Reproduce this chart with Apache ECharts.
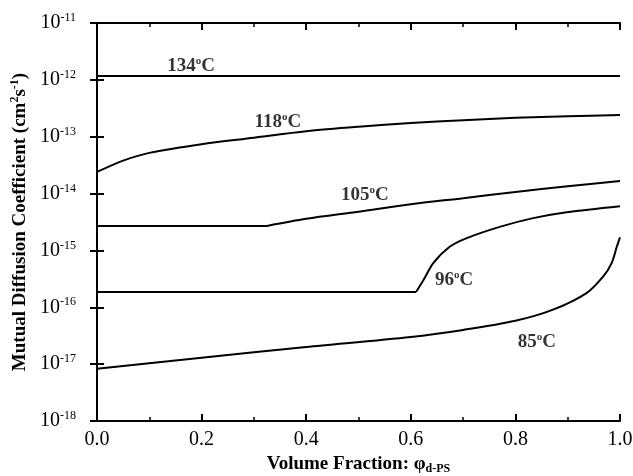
<!DOCTYPE html>
<html>
<head>
<meta charset="utf-8">
<script src="https://cdn.jsdelivr.net/npm/echarts@6/dist/echarts.min.js"></script>
<style>
  html, body { margin: 0; padding: 0; background: #fff; }
  #chart { width: 633px; height: 476px; }
</style>
</head>
<body>
<div id="chart"></div>
<script>
// volume fraction / mutual diffusion coefficient
var phi134 = [0, 1.0]
var d134 = [1.17e-12, 1.17e-12]

var phi118 = [0, 0.05, 0.1, 0.2, 0.3, 0.4, 0.5, 0.6, 0.7, 0.8, 0.9, 1.0]
var d118 = [2.4e-14, 3.8e-14, 5.2e-14, 7.4e-14, 9.6e-14, 1.25e-13, 1.5e-13, 1.74e-13, 1.95e-13, 2.15e-13, 2.3e-13, 2.4e-13]

// 105 C: flat part, then rising part
var phi105a = [0, 0.325]
var d105a = [2.7e-15, 2.7e-15]
var phi105b = [0.325, 0.4, 0.5, 0.6, 0.7, 0.8, 0.9, 1.0]
var d105b = [2.7e-15, 3.6e-15, 4.8e-15, 6.5e-15, 8.3e-15, 1.07e-14, 1.35e-14, 1.66e-14]

// 96 C: flat part, then rising part
var phi96a = [0, 0.61]
var d96a = [1.86e-16, 1.86e-16]
var phi96b = [0.61, 0.624, 0.643, 0.675, 0.707, 0.77, 0.834, 0.898, 1.0]
var d96b = [1.86e-16, 3.0e-16, 6e-16, 1.17e-15, 1.65e-15, 2.6e-15, 3.7e-15, 4.7e-15, 6e-15]

var phi85 = [0, 0.2, 0.4, 0.6, 0.7, 0.8, 0.872, 0.936, 0.968, 0.984, 0.994, 1.0]
var d85 = [8.3e-18, 1.3e-17, 2e-17, 3e-17, 4e-17, 5.8e-17, 9.1e-17, 1.78e-16, 3.5e-16, 6e-16, 1.17e-15, 1.7e-15]

// curve labels: temperature, position in data coords
var labelTemps = ['134', '118', '105', '96', '85']
var labelPhi = [0.18, 0.346, 0.512, 0.683, 0.841]
var labelD = [1.74e-12, 1.82e-13, 9.5e-15, 3e-16, 2.4e-17]

var xTicks = ['0.0', '0.2', '0.4', '0.6', '0.8', '1.0']

function pairs(xs, ys) {
  return xs.map(function(x, i) { return [x, ys[i]] })
}

var serif = '"Liberation Serif", "DejaVu Serif", serif'

function lineSeries(xs, ys, smooth) {
  return {
    type: 'line',
    data: pairs(xs, ys),
    symbol: 'none',
    smooth: smooth ? 0.3 : false,
    lineStyle: { color: '#000', width: 2 },
    animation: false
  }
}

var chart = echarts.init(document.getElementById('chart'))

chart.setOption({
  backgroundColor: '#fff',
  grid: { left: 97, right: 13, top: 23, bottom: 55, containLabel: false, outerBoundsMode: 'none' },
  xAxis: [{
    type: 'value',
    min: 0,
    max: 1,
    interval: 0.2,
    name: 'Volume Fraction: φ{sub|d-PS}',
    nameLocation: 'middle',
    nameGap: 29,
    nameTextStyle: {
      fontFamily: serif, fontWeight: 'bold', fontSize: 19, color: '#000',
      rich: {
        sub: { fontFamily: serif, fontWeight: 'bold', fontSize: 12, color: '#000', verticalAlign: 'bottom', padding: [9, 0, 0, 0] }
      }
    },
    axisLine: { lineStyle: { color: '#000', width: 2 } },
    axisTick: { inside: true, length: 7, lineStyle: { color: '#000', width: 2 } },
    minorTick: { show: true, splitNumber: 2, length: 4, lineStyle: { color: '#000', width: 1.5 } },
    splitLine: { show: false },
    axisLabel: {
      fontFamily: serif, fontSize: 20, color: '#000', margin: 9,
      formatter: function(v) { return xTicks[Math.round(v * 5)] }
    }
  }, {
    type: 'value',
    position: 'top',
    min: 0,
    max: 1,
    interval: 0.2,
    axisLine: { lineStyle: { color: '#000', width: 2 } },
    axisTick: { inside: true, length: 7, lineStyle: { color: '#000', width: 2 } },
    minorTick: { show: true, splitNumber: 2, length: 4, lineStyle: { color: '#000', width: 1.5 } },
    splitLine: { show: false },
    axisLabel: { show: false }
  }],
  yAxis: [{
    type: 'log',
    logBase: 10,
    min: 1e-18,
    max: 1e-11,
    interval: 1,
    name: 'Mutual Diffusion Coefficient (cm{sup|2}s{sup|-1})',
    nameLocation: 'middle',
    nameGap: 63,
    nameTextStyle: {
      fontFamily: serif, fontWeight: 'bold', fontSize: 19, color: '#000',
      rich: {
        sup: { fontFamily: serif, fontWeight: 'bold', fontSize: 12, color: '#000', verticalAlign: 'top', padding: [0, 0, 9, 0] }
      }
    },
    axisLine: { lineStyle: { color: '#000', width: 2 } },
    axisTick: { inside: true, length: 7, lineStyle: { color: '#000', width: 2 } },
    splitLine: { show: false },
    axisLabel: {
      margin: 21,
      formatter: function(v) {
        return '{b|10}{s|' + Math.round(Math.log10(v)) + '}'
      },
      rich: {
        b: { fontFamily: serif, fontSize: 20, color: '#000' },
        s: { fontFamily: serif, fontSize: 12, color: '#000', verticalAlign: 'top', padding: [0, 0, 10, 0] }
      }
    }
  }, {
    type: 'log',
    logBase: 10,
    min: 1e-18,
    max: 1e-11,
    interval: 1,
    position: 'right',
    axisLine: { lineStyle: { color: '#000', width: 2 } },
    axisTick: { inside: true, length: 7, lineStyle: { color: '#000', width: 2 } },
    splitLine: { show: false },
    axisLabel: { show: false }
  }],
  series: [
    lineSeries(phi134, d134, false),
    lineSeries(phi118, d118, true),
    lineSeries(phi105a, d105a, false),
    lineSeries(phi105b, d105b, true),
    lineSeries(phi96a, d96a, false),
    lineSeries(phi96b, d96b, true),
    lineSeries(phi85, d85, true),
    {
      type: 'scatter',
      symbolSize: 0,
      animation: false,
      data: labelTemps.map(function(t, i) { return [labelPhi[i], labelD[i], t] }),
      label: {
        show: true,
        position: 'inside',
        formatter: function(p) { return '{t|' + p.value[2] + '}{o|o}{t|C}' },
        rich: {
          t: { fontFamily: serif, fontWeight: 'bold', fontSize: 19, color: '#000' },
          o: { fontFamily: serif, fontWeight: 'bold', fontSize: 11, color: '#000', verticalAlign: 'top', padding: [0, 0, 10, 0] }
        }
      }
    }
  ]
})
</script>
</body>
</html>
